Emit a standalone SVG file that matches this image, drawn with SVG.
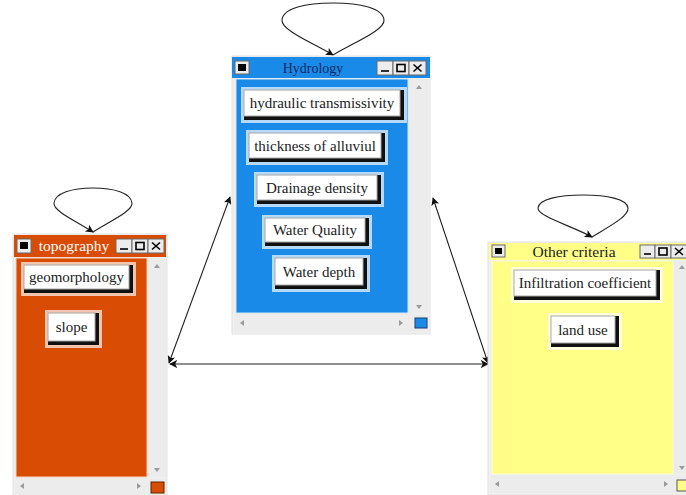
<svg xmlns="http://www.w3.org/2000/svg" width="686" height="495" viewBox="0 0 686 495">
<defs>
<style>
.frame{fill:#f0f0f0;stroke:#e2e2e2;stroke-width:1}
.sb{fill:#ececec}
.arrowtri{fill:#9a9a9a}
.ttl{font-family:"Liberation Serif","Times New Roman",serif;font-size:14px;text-anchor:middle}
.ttl2{font-family:"Liberation Serif","Times New Roman",serif;font-size:15.5px;text-anchor:middle}
.btxt{font-family:"Liberation Serif","Times New Roman",serif;font-size:15px;fill:#222;text-anchor:middle}
.bframe{fill:#fff;fill-opacity:0.68}
.bshadow{fill:#111}
.bface{fill:#fff;stroke:#a8a8a8;stroke-width:1}
.tbtn{fill:#ececec;stroke:#6a6a6a;stroke-width:1}
.ico{stroke:#000;stroke-width:1.6;fill:none}
.conn{stroke:#222;stroke-width:1.1;fill:none}
</style>
<marker id="ah" viewBox="0 0 10 10" refX="9" refY="5" markerWidth="8" markerHeight="8" markerUnits="userSpaceOnUse" orient="auto-start-reverse">
<path d="M0,0 L10,5 L0,10 L2.5,5 Z" fill="#111"/>
</marker>
</defs>
<rect width="686" height="495" fill="#fff"/>

<g id="connectors">
<line class="conn" x1="230" y1="197" x2="169" y2="363" marker-start="url(#ah)" marker-end="url(#ah)"/>
<line class="conn" x1="170" y1="364" x2="488" y2="364" marker-start="url(#ah)" marker-end="url(#ah)"/>
<line class="conn" x1="433" y1="198" x2="488" y2="363" marker-start="url(#ah)" marker-end="url(#ah)"/>
<path class="conn" d="M333 55 C355 42,385 30,384 20 C383 8,360 3,333 3 C306 3,283 8,282 20 C281 30,311 42,333 55" marker-end="url(#ah)"/>
<path class="conn" d="M93 232 C110 221,133 211,132 203 C131 193,114 188,93 188 C72 188,55 193,54 203 C53 211,76 221,93 232" marker-end="url(#ah)"/>
<path class="conn" d="M592 237 C610 226,629 216,628 208 C627 199,607 195,583 195 C559 195,539 199,538 208 C537 216,572 226,592 237" marker-end="url(#ah)"/>
</g>

<g id="hydrology">
<rect class="frame" x="232" y="56" width="198" height="278"/>
<rect x="232" y="57" width="198" height="21" fill="#1a8ae8"/>
<rect x="236" y="79" width="172" height="234" fill="#1a8ae8" stroke="#cfe3f5" stroke-width="1"/>
<rect class="sb" x="409" y="79" width="19" height="234"/>
<rect class="sb" x="234" y="314" width="194" height="18"/>
<polygon class="arrowtri" points="416,89 419,85 422,89"/>
<polygon class="arrowtri" points="416,305 419,309 422,305"/>
<polygon class="arrowtri" points="244,320 240,323 244,326"/>
<polygon class="arrowtri" points="399,320 403,323 399,326"/>
<rect x="415" y="318" width="12" height="10" fill="#1a8ae8" stroke="#1b3b70" stroke-width="1"/>
<rect class="tbtn" x="235" y="61" width="14" height="13"/>
<rect x="238" y="64" width="8" height="7" fill="#000"/>
<text class="ttl" x="313" y="73" fill="#0d2a66">Hydrology</text>
<rect class="tbtn" x="377" y="61" width="16" height="14"/>
<line class="ico" x1="381" y1="71" x2="389" y2="71"/>
<rect class="tbtn" x="393" y="61" width="16" height="14"/>
<rect class="ico" x="397" y="64.5" width="8" height="7"/>
<rect class="tbtn" x="409" y="61" width="17" height="14"/>
<path class="ico" d="M413.5 64.5 L421.5 71.5 M421.5 64.5 L413.5 71.5"/>
<g id="btn-hydraulic">
<rect class="bframe" x="241" y="87" width="166" height="36"/>
<rect class="bshadow" x="244" y="90" width="160" height="30"/>
<rect class="bface" x="244" y="90" width="156" height="26"/>
<text class="btxt" x="322" y="108">hydraulic transmissivity</text>
</g>
<g id="btn-thickness">
<rect class="bframe" x="246" y="130" width="142" height="35"/>
<rect class="bshadow" x="249" y="133" width="136" height="29"/>
<rect class="bface" x="249" y="133" width="132" height="25"/>
<text class="btxt" x="315" y="151">thickness of alluviul</text>
</g>
<g id="btn-drainage">
<rect class="bframe" x="254" y="172" width="130" height="35"/>
<rect class="bshadow" x="257" y="175" width="124" height="29"/>
<rect class="bface" x="257" y="175" width="120" height="25"/>
<text class="btxt" x="317" y="193">Drainage density</text>
</g>
<g id="btn-quality">
<rect class="bframe" x="262" y="215" width="110" height="34"/>
<rect class="bshadow" x="265" y="218" width="104" height="28"/>
<rect class="bface" x="265" y="218" width="100" height="24"/>
<text class="btxt" x="315" y="235">Water Quality</text>
</g>
<g id="btn-depth">
<rect class="bframe" x="272" y="255" width="98" height="37"/>
<rect class="bshadow" x="275" y="258" width="92" height="31"/>
<rect class="bface" x="275" y="258" width="88" height="27"/>
<text class="btxt" x="319" y="277">Water depth</text>
</g>
</g>

<g id="topography">
<rect class="frame" x="13" y="234" width="154" height="261"/>
<rect x="14" y="235" width="152" height="22" fill="#d94c04"/>
<rect x="16" y="258" width="131" height="219" fill="#d94c04" stroke="#f6d2b6" stroke-width="1"/>
<rect class="sb" x="148" y="258" width="18" height="219"/>
<rect class="sb" x="15" y="478" width="151" height="17"/>
<polygon class="arrowtri" points="154,268 157,264 160,268"/>
<polygon class="arrowtri" points="154,468 157,472 160,468"/>
<polygon class="arrowtri" points="24,483 20,486 24,489"/>
<polygon class="arrowtri" points="137,483 141,486 137,489"/>
<rect x="151" y="482" width="13" height="11" fill="#d94c04" stroke="#5a2000" stroke-width="1"/>
<rect class="tbtn" x="17" y="239" width="14" height="14"/>
<rect x="20" y="242" width="8" height="7" fill="#000"/>
<text class="ttl2" x="74" y="251" fill="#fff">topography</text>
<rect class="tbtn" x="116" y="239" width="16" height="14"/>
<line class="ico" x1="120" y1="249" x2="128" y2="249"/>
<rect class="tbtn" x="132" y="239" width="16" height="14"/>
<rect class="ico" x="136" y="242.5" width="8" height="7"/>
<rect class="tbtn" x="148" y="239" width="16" height="14"/>
<path class="ico" d="M152 242.5 L160 249.5 M160 242.5 L152 249.5"/>
<g id="btn-geomorphology">
<rect class="bframe" x="21" y="262" width="115" height="34"/>
<rect class="bshadow" x="24" y="265" width="109" height="28"/>
<rect class="bface" x="24" y="265" width="105" height="24"/>
<text class="btxt" x="76.5" y="282">geomorphology</text>
</g>
<g id="btn-slope">
<rect class="bframe" x="45" y="310" width="57" height="38"/>
<rect class="bshadow" x="48" y="313" width="51" height="32"/>
<rect class="bface" x="48" y="313" width="47" height="28"/>
<text class="btxt" x="71.5" y="332">slope</text>
</g>
</g>

<g id="other-criteria">
<rect class="frame" x="488" y="242" width="200" height="253"/>
<rect x="489" y="243" width="197" height="17" fill="#ffff88"/>
<rect x="492" y="261" width="181" height="213" fill="#ffff88" stroke="#fafad0" stroke-width="1"/>
<rect class="sb" x="674" y="261" width="12" height="213"/>
<rect class="sb" x="490" y="475" width="196" height="18"/>
<polygon class="arrowtri" points="679,269 682,265 685,269"/>
<polygon class="arrowtri" points="679,466 682,470 685,466"/>
<polygon class="arrowtri" points="499,481 495,484 499,487"/>
<polygon class="arrowtri" points="664,481 668,484 664,487"/>
<rect x="677" y="480" width="10" height="11" fill="#ffff88" stroke="#555" stroke-width="1"/>
<rect class="tbtn" x="492" y="245" width="13" height="12"/>
<rect x="495" y="248" width="7" height="6" fill="#000"/>
<text class="ttl2" x="574" y="256.5" fill="#222">Other criteria</text>
<rect class="tbtn" x="640" y="245" width="15" height="13"/>
<line class="ico" x1="644" y1="254" x2="651" y2="254"/>
<rect class="tbtn" x="655" y="245" width="16" height="13"/>
<rect class="ico" x="659" y="248" width="8" height="7"/>
<rect class="tbtn" x="671" y="245" width="16" height="13"/>
<path class="ico" d="M675 248 L683 255 M683 248 L675 255"/>
<g id="btn-infiltration">
<rect class="bframe" x="511" y="267" width="152" height="36"/>
<rect class="bshadow" x="514" y="270" width="146" height="30"/>
<rect class="bface" x="514" y="270" width="142" height="26"/>
<text class="btxt" x="585" y="288">Infiltration coefficient</text>
</g>
<g id="btn-landuse">
<rect class="bframe" x="548" y="313" width="74" height="37"/>
<rect class="bshadow" x="551" y="316" width="68" height="31"/>
<rect class="bface" x="551" y="316" width="64" height="27"/>
<text class="btxt" x="583" y="335">land use</text>
</g>
</g>
</svg>
